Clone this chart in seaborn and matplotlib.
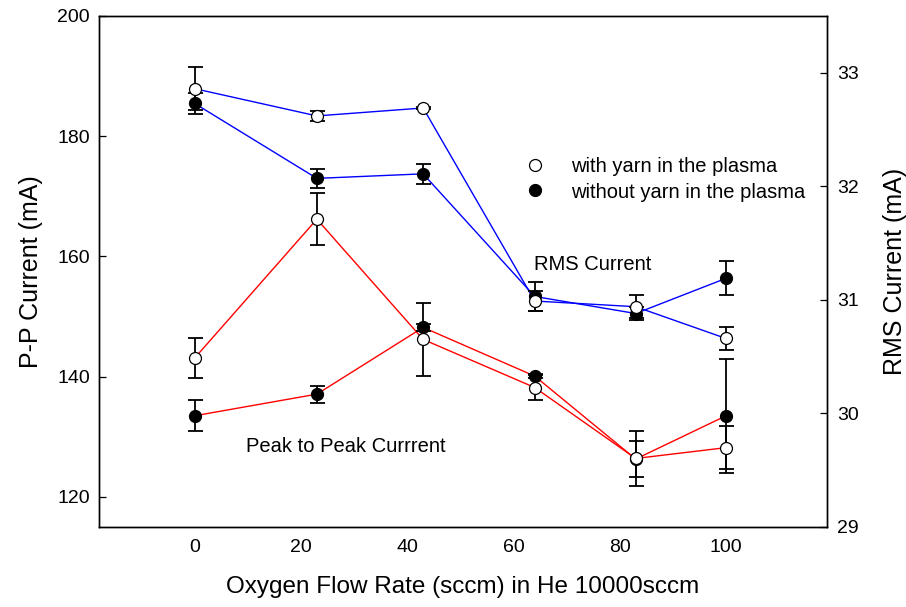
import matplotlib
matplotlib.use("Agg")
import matplotlib.pyplot as plt
from matplotlib.lines import Line2D
import seaborn as sns
import pandas as pd

# Oxygen flow settings (sccm)
flow = [0, 23, 43, 64, 83, 100]

# Peak-to-peak current (mA), left axis
pp_with = [143.1, 166.2, 146.2, 138.2, 126.4, 128.2]
pp_with_err = [3.3, 4.3, 6.0, 2.1, 4.5, 3.6]
pp_without = [133.5, 137.1, 148.2, 140.1, 126.3, 133.5]
pp_without_err = [2.6, 1.4, 0.6, 0.3, 3.0, 9.5]

# RMS current (mA), right axis
rms_with = [32.86, 32.62, 32.69, 30.99, 30.94, 30.66]
rms_with_err = [0.19, 0.045, 0.01, 0.09, 0.10, 0.10]
rms_without = [32.73, 32.07, 32.11, 31.03, 30.88, 31.19]
rms_without_err = [0.095, 0.085, 0.09, 0.125, 0.06, 0.15]

conditions = ["with yarn in the plasma", "without yarn in the plasma"]

sns.set_theme(style="white")
plt.rcParams["font.family"] = ["Liberation Sans", "DejaVu Sans"]
plt.rcParams["text.color"] = "black"
plt.rcParams["axes.labelcolor"] = "black"

pp_df = pd.DataFrame({
    "flow": flow * 2,
    "current": pp_with + pp_without,
    "err": pp_with_err + pp_without_err,
    "condition": [conditions[0]] * len(flow) + [conditions[1]] * len(flow),
})
rms_df = pd.DataFrame({
    "flow": flow * 2,
    "current": rms_with + rms_without,
    "err": rms_with_err + rms_without_err,
    "condition": [conditions[0]] * len(flow) + [conditions[1]] * len(flow),
})

fig = plt.figure(figsize=(9.06, 6.07), dpi=100)
ax = fig.add_axes([0.10927, 0.13180, 0.80353, 0.84185])
ax2 = ax.twinx()

face = {conditions[0]: "white", conditions[1]: "black"}
msize = 8.6
# filled symbols first so the open ones sit on top where they overlap
draw_order = [conditions[1], conditions[0]]


def draw_panel(axis, df, color):
    # connecting lines, one per condition, same colour
    sns.lineplot(data=df, x="flow", y="current", units="condition",
                 estimator=None, color=color, linewidth=1.0, ax=axis,
                 legend=False, zorder=2)
    for cond in draw_order:
        sub = df[df["condition"] == cond]
        axis.errorbar(sub["flow"], sub["current"], yerr=sub["err"], fmt="none",
                      ecolor="black", elinewidth=1.3, capsize=5.4,
                      capthick=1.3, zorder=3)
    for cond in draw_order:
        sub = df[df["condition"] == cond]
        sns.scatterplot(data=sub, x="flow", y="current", ax=axis,
                        marker="o", s=msize ** 2, color=face[cond],
                        edgecolor="black", linewidth=0.9, zorder=4,
                        legend=False)


draw_panel(ax, pp_df, "red")
draw_panel(ax2, rms_df, "blue")

ax.set_xlim(-18, 119)
ax.set_ylim(115, 200)
ax2.set_ylim(29, 33.5)
ax.set_xticks([0, 20, 40, 60, 80, 100])
ax.set_yticks([120, 140, 160, 180, 200])
ax2.set_yticks([29, 30, 31, 32, 33])

for a in (ax, ax2):
    for s in a.spines.values():
        s.set_color("black")
        s.set_linewidth(1.0)
    a.tick_params(direction="in", length=5, width=0.9, colors="black",
                  labelsize=14)
ax.tick_params(axis="x", pad=9)
ax.tick_params(axis="y", pad=6.5)
ax2.tick_params(axis="y", pad=7)

ax.set_xlabel("Oxygen Flow Rate (sccm) in He 10000sccm", fontsize=17.5,
              color="black")
ax.set_ylabel("P-P Current (mA)", fontsize=18, color="black")
ax2.set_ylabel("RMS Current (mA)", fontsize=18, color="black")
ax.xaxis.set_label_coords(0.5, -0.095)
ax.yaxis.set_label_coords(-0.077, 0.5)
ax2.yaxis.set_label_coords(1.077, 0.5)

ax.text(0.598, 0.513, "RMS Current", transform=ax.transAxes, fontsize=14.5,
        ha="left", va="center", color="black")
ax.text(0.202, 0.158, "Peak to Peak Currrent", transform=ax.transAxes,
        fontsize=14.5, ha="left", va="center", color="black")

handles = [Line2D([], [], linestyle="none", marker="o", markersize=msize,
                  markerfacecolor=face[c], markeredgecolor="black",
                  markeredgewidth=0.9) for c in conditions]
fig.legend(handles, conditions, loc="center left",
           bbox_to_anchor=(525 / 906, 1 - 179.5 / 607), frameon=False,
           fontsize=14.5, handlelength=1.0, handletextpad=1.3,
           labelspacing=0.3, borderpad=0, borderaxespad=0,
           labelcolor="black")

fig.savefig("out.png", dpi=100)
